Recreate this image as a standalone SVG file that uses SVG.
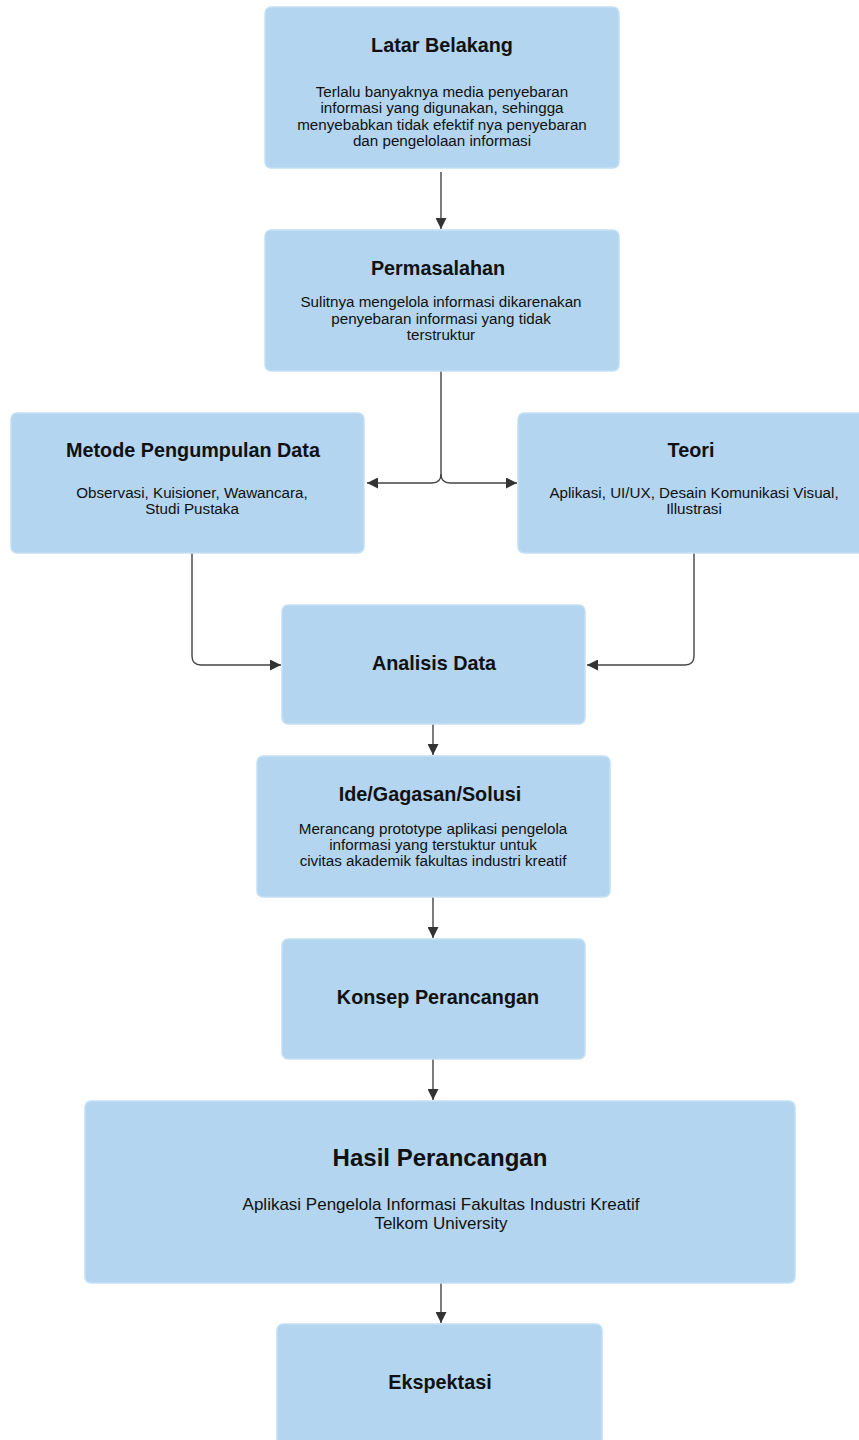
<svg xmlns="http://www.w3.org/2000/svg" width="859" height="1440" viewBox="0 0 859 1440">
<style>
.box{fill:#b3d5ef;stroke:#c4e0f5;stroke-width:1.5}
.t{font-family:"Liberation Sans",Arial,sans-serif;font-weight:bold;font-size:19.8px;fill:#111;text-anchor:middle}
.b{font-family:"Liberation Sans",Arial,sans-serif;font-size:15.2px;fill:#111;text-anchor:middle}
.c{fill:none;stroke:#444;stroke-width:1.4}
</style>
<defs>
<marker id="ah" viewBox="0 0 10 10" refX="10" refY="5" markerWidth="11" markerHeight="11" markerUnits="userSpaceOnUse" orient="auto">
<path d="M0,0 L10,5 L0,10 Z" fill="#333"/>
</marker>
</defs>
<rect width="859" height="1440" fill="#ffffff"/>
<g id="connectors">
<path class="c" d="M441,172 V229" marker-end="url(#ah)"/>
<path class="c" d="M441,371 V474 Q441,483 432,483 H367" marker-end="url(#ah)"/>
<path class="c" d="M441,474 Q441,483 450,483 H517" marker-end="url(#ah)"/>
<path class="c" d="M192,553 V656 Q192,665 201,665 H281" marker-end="url(#ah)"/>
<path class="c" d="M694,553 V656 Q694,665 685,665 H587" marker-end="url(#ah)"/>
<path class="c" d="M433,724 V755" marker-end="url(#ah)"/>
<path class="c" d="M433,897 V938" marker-end="url(#ah)"/>
<path class="c" d="M433,1059 V1100" marker-end="url(#ah)"/>
<path class="c" d="M441,1283 V1323" marker-end="url(#ah)"/>
</g>
<g id="latar">
<rect class="box" x="265" y="7" width="354" height="161" rx="6"/>
<text class="t" x="442" y="52">Latar Belakang</text>
<text class="b" x="442" y="97">Terlalu banyaknya media penyebaran</text>
<text class="b" x="442" y="113">informasi yang digunakan, sehingga</text>
<text class="b" x="442" y="130">menyebabkan tidak efektif nya penyebaran</text>
<text class="b" x="442" y="146">dan pengelolaan informasi</text>
</g>
<g id="permasalahan">
<rect class="box" x="265" y="230" width="354" height="141" rx="6"/>
<text class="t" x="438" y="275">Permasalahan</text>
<text class="b" x="441" y="307">Sulitnya mengelola informasi dikarenakan</text>
<text class="b" x="441" y="324">penyebaran informasi yang tidak</text>
<text class="b" x="441" y="340">terstruktur</text>
</g>
<g id="metode">
<rect class="box" x="11" y="413" width="353" height="140" rx="6"/>
<text class="t" x="193" y="457">Metode Pengumpulan Data</text>
<text class="b" x="192" y="498">Observasi, Kuisioner, Wawancara,</text>
<text class="b" x="192" y="514">Studi Pustaka</text>
</g>
<g id="teori">
<rect class="box" x="518" y="413" width="350" height="140" rx="6"/>
<text class="t" x="691" y="457">Teori</text>
<text class="b" x="694" y="498">Aplikasi, UI/UX, Desain Komunikasi Visual,</text>
<text class="b" x="694" y="514">Illustrasi</text>
</g>
<g id="analisis">
<rect class="box" x="282" y="605" width="303" height="119" rx="6"/>
<text class="t" x="434" y="670">Analisis Data</text>
</g>
<g id="ide">
<rect class="box" x="257" y="756" width="353" height="141" rx="6"/>
<text class="t" x="430" y="801">Ide/Gagasan/Solusi</text>
<text class="b" x="433" y="834">Merancang prototype aplikasi pengelola</text>
<text class="b" x="433" y="850">informasi yang terstuktur untuk</text>
<text class="b" x="433" y="866">civitas akademik fakultas industri kreatif</text>
</g>
<g id="konsep">
<rect class="box" x="282" y="939" width="303" height="120" rx="6"/>
<text class="t" x="438" y="1004">Konsep Perancangan</text>
</g>
<g id="hasil">
<rect class="box" x="85" y="1101" width="710" height="182" rx="6"/>
<text class="t" x="440" y="1166" style="font-size:24px">Hasil Perancangan</text>
<text class="b" x="441" y="1210" style="font-size:17px">Aplikasi Pengelola Informasi Fakultas Industri Kreatif</text>
<text class="b" x="441" y="1229" style="font-size:17px">Telkom University</text>
</g>
<g id="ekspektasi">
<rect class="box" x="277" y="1324" width="325" height="130" rx="6"/>
<text class="t" x="440" y="1389">Ekspektasi</text>
</g>
</svg>
